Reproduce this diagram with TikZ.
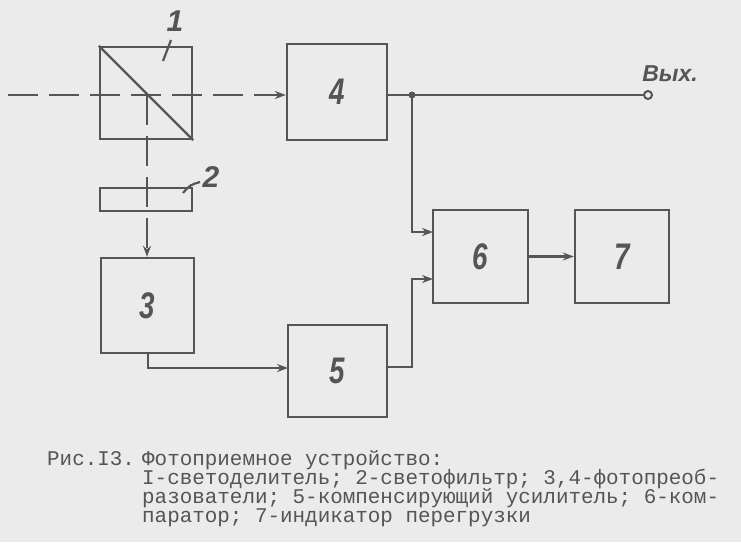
\documentclass[tikz,border=0pt]{standalone}
\usepackage{fontspec}
\usepackage{graphicx}
\setmainfont{Liberation Sans}
\newfontfamily\capfont{Liberation Mono}
\usetikzlibrary{arrows.meta}
\definecolor{ink}{HTML}{555555}
\definecolor{paper}{HTML}{EBEBEB}
\tikzset{
  blk/.style={draw=ink, line width=2.4pt, inner sep=0pt, text=ink,
    font=\fontsize{37}{37}\selectfont\bfseries\itshape},
  wire/.style={draw=ink, line width=2.4pt},
  beam/.style={draw=ink, line width=2.4pt, dash pattern=on 30pt off 11pt},
  arr/.style={-{Stealth[length=11pt,width=8pt]}},
  lbl/.style={text=ink, inner sep=0pt, font=\fontsize{30}{30}\selectfont\bfseries\itshape},
  capline/.style={text=ink, inner sep=0pt, anchor=base west,
    font=\capfont\fontsize{20.9}{20}\selectfont}
}
\newcommand\dg[1]{\scalebox{0.75}[1]{#1}}
\begin{document}
\begin{tikzpicture}[x=1pt,y=-1pt]
\fill[paper] (0,0) rectangle (741,542);
\useasboundingbox (0,0) rectangle (741,542);

% boxes
\node[blk, minimum width=92pt, minimum height=92pt] (b1) at (146,93) {};
\node[blk, minimum width=100pt, minimum height=96pt] (b4) at (337,92) {\dg{4}};
\node[blk, minimum width=92pt, minimum height=23pt] (b2) at (146,199.5) {};
\node[blk, minimum width=93pt, minimum height=95pt] (b3) at (147.5,305.5) {\dg{3}};
\node[blk, minimum width=99pt, minimum height=92pt] (b5) at (337.5,371) {\dg{5}};
\node[blk, minimum width=95pt, minimum height=93pt] (b6) at (480.5,256.5) {\dg{6}};
\node[blk, minimum width=94pt, minimum height=93pt] (b7) at (622,256.5) {\dg{7}};

% beam splitter diagonal
\draw[wire] (b1.north west) -- (b1.south east);

% beams
\coordinate (src) at (8,95);
\coordinate (split) at (147,95);
\draw[beam, arr] (src) -- (src -| b4.west);
\draw[beam, arr] (split) -- (split |- b3.north);

% output
\coordinate (j) at (412,95);
\coordinate (out) at (648,95);
\draw[wire] (j -| b4.east) -- (out);
\fill[ink] (j) circle (3.5pt);
\draw[ink, line width=2pt, fill=paper] (out) circle (4pt);
\node[text=ink, inner sep=0pt, font=\fontsize{23}{23}\selectfont\bfseries\itshape] (vyx) at (670,74) {Вых.};

% 4 -> 6
\coordinate (in6a) at (433,232);
\coordinate (in6b) at (433,279);
\draw[wire, arr] (j) |- (in6a);

% 3 -> 5
\coordinate (o3) at (148,353);
\coordinate (in5) at (288,368);
\draw[wire, arr] (o3) |- (in5);

% 5 -> 6
\coordinate (o5) at (387,367);
\coordinate (k5) at (412,367);
\draw[wire, arr] (o5) -- (k5) |- (in6b);

% 6 -> 7
\draw[wire, arr] (b6.east) -- (b7.west);

% labels with leaders
\node[lbl] (l1) at (175,21) {1};
\coordinate (l1a) at (163,61);
\coordinate (l1b) at (171,40);
\draw[ink, line width=2.2pt] (l1a) -- (l1b);
\node[lbl] (l2) at (211,177) {2};
\coordinate (l2a) at (183,193);
\coordinate (l2b) at (200,182);
\draw[ink, line width=2.2pt] (l2a) .. controls (190,185) .. (l2b);

% caption
\node[capline] (fig) at (47,465) {Рис.I3.};
\node[capline] (c1) at (142,465) {Фотоприемное устройство:};
\node[capline] (c2) at (142,484) {I-светоделитель; 2-светофильтр; 3,4-фотопреоб-};
\node[capline] (c3) at (142,503) {разователи; 5-компенсирующий усилитель; 6-ком-};
\node[capline] (c4) at (142,522) {паратор; 7-индикатор перегрузки};
\end{tikzpicture}
\end{document}
